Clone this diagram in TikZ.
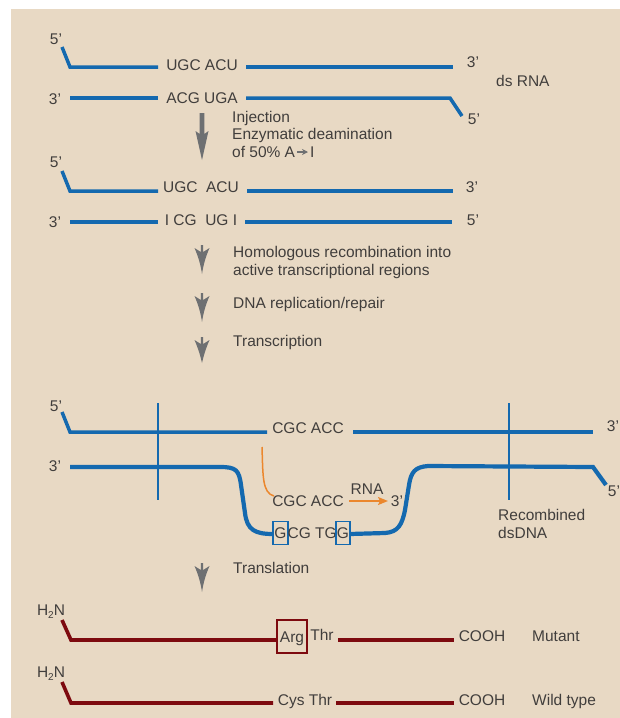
\documentclass[tikz,border=0pt]{standalone}
\usepackage{fontspec}
\setmainfont{Liberation Sans}
\usetikzlibrary{arrows.meta}
\definecolor{bg}{RGB}{232,217,196}
\definecolor{strand}{RGB}{20,105,175}
\definecolor{prot}{RGB}{125,10,15}
\definecolor{rnac}{RGB}{235,135,45}
\definecolor{arr}{RGB}{110,112,114}
\definecolor{tx}{RGB}{65,62,60}
\tikzset{
  lbl/.style={font=\fontsize{15.5}{17.5}\selectfont, text=tx, inner sep=0pt, text height=11.1pt, text depth=0pt},
  dna/.style={draw=strand, line width=3.5pt},
  dnathick/.style={draw=strand, line width=4.2pt},
  cross/.style={draw=strand, line width=2pt},
  pep/.style={draw=prot, line width=3.6pt},
  pics/dart/.style={code={
    \fill[arr] (-1.2,0) -- (1.2,0) -- (1.2,7) -- (7.5,3)
      .. controls (4,11) and (1.5,19) .. (0,#1)
      .. controls (-1.5,19) and (-4,11) .. (-7.5,3) -- (-1.2,7) -- cycle;}}
}
\begin{document}
\begin{tikzpicture}[x=1pt,y=-1pt]
\useasboundingbox (0,0) rectangle (620,718);
\fill[white] (0,0) rectangle (620,718);
\fill[bg] (11,9) rectangle (620,718);

% ---------- Section 1: ds RNA ----------
\node[lbl] (a5) at (56,39) {5’};
\node[lbl] (aseq) at (202,65) {UGC ACU};
\node[lbl] (a3) at (473,62) {3’};
\draw[dna] (62,47) -- (70,67) -- (158,67);
\draw[dna] (246,67) -- (453,67);
\node[lbl] (b3) at (55,99) {3’};
\node[lbl] (bseq) at (202,98) {ACG UGA};
\node[lbl] (b5) at (474,119) {5’};
\draw[dna] (70,98) -- (158,98);
\draw[dna] (246,98) -- (450,98) -- (462,116);
\node[lbl,anchor=west] (dsrna) at (496,81) {ds RNA};

% big arrow
\fill[arr] (199.7,113) -- (204.3,113) -- (204.3,134) -- (208.5,131) -- (202,160)
  -- (195.5,131) -- (199.7,134) -- cycle;
\node[lbl,anchor=west] (inj) at (232,117) {Injection};
\node[lbl,anchor=west] (enz) at (232,134) {Enzymatic deamination};
\node[lbl,anchor=west] (of50) at (232,152) {of 50\% A};
\node[lbl,anchor=west] (inos) at (310,152) {I};
\draw[arr, line width=1.4pt, -{Stealth[length=6pt,width=6pt,inset=2pt]}] (of50.east) ++(2,0) coordinate (ai1) -- (inos.west -| 308,0);

% ---------- Section 2 ----------
\node[lbl] (c5) at (56,162) {5’};
\node[lbl] (cseq) at (201,187) {UGC\ \ ACU};
\node[lbl] (c3) at (472,187) {3’};
\draw[dna] (62,171) -- (70,191) -- (158,191);
\draw[dna] (247,191) -- (453,191);
\node[lbl] (d3) at (55,222) {3’};
\node[lbl] (dseq) at (201,220) {I CG\ \ UG I};
\node[lbl] (d5) at (473,220) {5’};
\draw[dna] (70,222) -- (158,222);
\draw[dna] (245,222) -- (452,222);

% darts + step texts
\pic at (202,245) {dart=29};
\node[lbl,anchor=west] (hom1) at (233,252) {Homologous recombination into};
\node[lbl,anchor=west] (hom2) at (233,269.5) {active transcriptional regions};
\pic at (202,293) {dart=29};
\node[lbl,anchor=west] (rep) at (233,303) {DNA replication/repair};
\pic at (202,337) {dart=26};
\node[lbl,anchor=west] (trs) at (233,341) {Transcription};

% ---------- Section 3: recombined dsDNA ----------
\node[lbl] (e5) at (56,406) {5’};
\node[lbl] (eseq) at (308,428) {CGC ACC};
\node[lbl] (e3) at (613,426) {3’};
\draw[dna] (62,412) -- (70,432) -- (267,432);
\draw[dna] (353,432) -- (593,432);
\node[lbl] (f3) at (55,466) {3’};
\node[lbl] (f5) at (614,491) {5’};
\draw[dnathick] (70,467) -- (220,467) .. controls (236,467) and (239,470) .. (241,485)
  -- (245,513) .. controls (247,530) and (255,534) .. (273,534);
\draw[dnathick] (350,534) -- (385,533) .. controls (398,532) and (402,525) .. (405,510)
  -- (409,485) .. controls (411,472) and (415,467) .. (428,466) -- (593,467) -- (606,485);
\draw[cross] (158,403) -- (158,500);
\draw[cross] (509,403) -- (509,500);

% transcript
\draw[rnac, line width=1.5pt] (262,447) .. controls (263,475) and (262,493) .. (274,496);
\node[lbl] (rseq) at (308,501) {CGC ACC};
\node[lbl] (r3) at (397,501) {3’};
\node[lbl] (rna) at (367,489) {RNA};
\draw[rnac, line width=1.8pt, -{Stealth[length=10pt,width=8pt,inset=2pt]}] (349,501) -- (388,501);

% template with boxed G's
\node[lbl, draw=strand, line width=1.3pt, minimum width=15pt, minimum height=23pt] (g1) at (280.5,533) {G};
\node[lbl, anchor=west] (mid) at (287.5,533) {CG TG};
\node[lbl, draw=strand, line width=1.3pt, minimum width=14pt, minimum height=23pt] (g2) at (343,533) {G};
\node[lbl,anchor=west] (rec1) at (498,515) {Recombined};
\node[lbl,anchor=west] (rec2) at (498,533) {dsDNA};

% translation
\pic at (202,563) {dart=29};
\node[lbl,anchor=west] (trl) at (233,568) {Translation};

% ---------- Section 4: proteins ----------
\node[lbl] (h1) at (51,610) {H\raisebox{-2.5pt}{\fontsize{10}{10}\selectfont 2}N};
\draw[pep] (62,620) -- (71,640) -- (277,640);
\node[lbl, draw=prot, line width=1.5pt, minimum width=30pt, minimum height=33pt] (arg) at (292,636.5) {Arg};
\node[lbl] (thr) at (322,635) {Thr};
\draw[pep] (338,640) -- (454,640);
\node[lbl] (cooh1) at (482,636) {COOH};
\node[lbl,anchor=west] (mut) at (532,636) {Mutant};

\node[lbl] (h2) at (51,672) {H\raisebox{-2.5pt}{\fontsize{10}{10}\selectfont 2}N};
\draw[pep] (62,682) -- (71,703) -- (273,703);
\node[lbl] (cys) at (305,700) {Cys Thr};
\draw[pep] (336,703) -- (454,703);
\node[lbl] (cooh2) at (482,700) {COOH};
\node[lbl,anchor=west] (wt) at (532,700) {Wild type};
\end{tikzpicture}
\end{document}
